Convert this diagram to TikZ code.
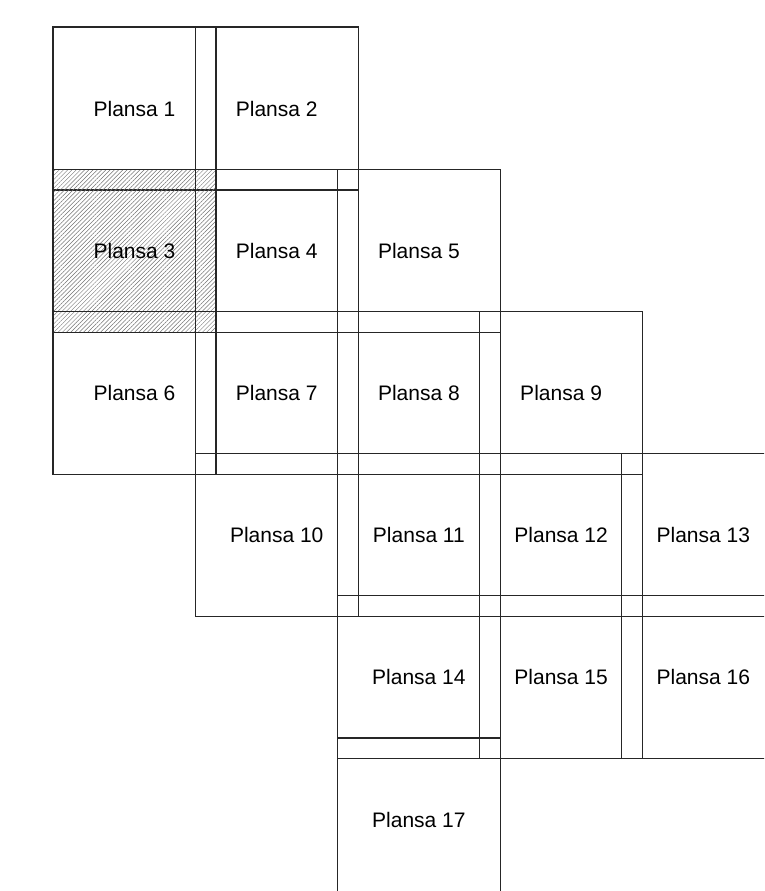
\documentclass[tikz,border=0pt]{standalone}
\usepackage{fontspec}
\setmainfont{Liberation Sans}
\usetikzlibrary{positioning,patterns.meta}

\begin{document}
\begin{tikzpicture}[x=1pt,y=1pt,node distance=142.2pt,on grid,
    sheet/.style={draw=black!85,line width=1.2pt,minimum width=163pt,
      minimum height=163pt,inner sep=0pt,font=\fontsize{21}{25}\selectfont},
    marked/.style={sheet,pattern={Lines[angle=45,distance=3pt,line width=0.5pt]},
      pattern color=black!55}]
   \useasboundingbox (0,0) rectangle (764,-891);
   \clip (0,0) rectangle (764,-891);
   \node[sheet] (1) at (134.5,-108.5) {Plansa 1};
   \node[sheet] (2) [right=of 1] {Plansa 2};
   \node[marked] (3) [below=of 1] {Plansa 3};
   \node[sheet] (4) [right=of 3] {Plansa 4};
   \node[sheet] (5) [right=of 4] {Plansa 5};
   \node[sheet] (6) [below=of 3] {Plansa 6};
   \node[sheet] (7) [right=of 6] {Plansa 7};
   \node[sheet] (8) [right=of 7] {Plansa 8};
   \node[sheet] (9) [right=of 8] {Plansa 9};
   \node[sheet] (10) [below=of 7] {Plansa 10};
   \node[sheet] (11) [right=of 10] {Plansa 11};
   \node[sheet] (12) [right=of 11] {Plansa 12};
   \node[sheet] (13) [right=of 12] {Plansa 13};
   \node[sheet] (14) [below=of 11] {Plansa 14};
   \node[sheet] (15) [right=of 14] {Plansa 15};
   \node[sheet] (16) [right=of 15] {Plansa 16};
   \node[sheet] (17) [below=of 14] {Plansa 17};
\end{tikzpicture}
\end{document}
